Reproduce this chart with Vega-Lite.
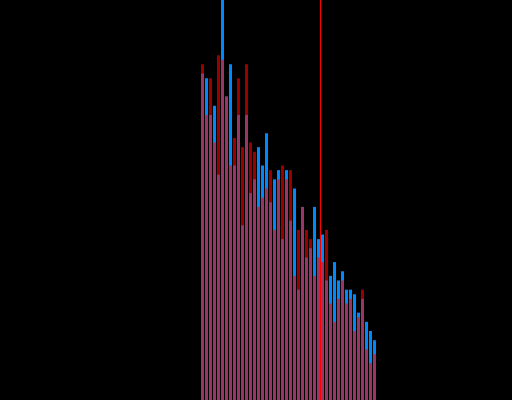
{
  "$schema": "https://vega.github.io/schema/vega-lite/v6.json",
  "width": 512,
  "height": 400,
  "autosize": "none",
  "padding": 0,
  "background": "#000000",
  "config": {"view": {"stroke": null}, "axis": {"disable": true}},
  "datasets": {
    "bins": [
      {"bin_start": 0, "bin_end": 1, "blue": 71, "red": 73},
      {"bin_start": 1, "bin_end": 2, "blue": 70, "red": 62},
      {"bin_start": 2, "bin_end": 3, "blue": 62, "red": 70},
      {"bin_start": 3, "bin_end": 4, "blue": 64, "red": 56},
      {"bin_start": 4, "bin_end": 5, "blue": 49, "red": 75},
      {"bin_start": 5, "bin_end": 6, "blue": 87, "red": 74},
      {"bin_start": 6, "bin_end": 7, "blue": 66, "red": 66},
      {"bin_start": 7, "bin_end": 8, "blue": 73, "red": 51},
      {"bin_start": 8, "bin_end": 9, "blue": 51, "red": 57},
      {"bin_start": 9, "bin_end": 10, "blue": 62, "red": 70},
      {"bin_start": 10, "bin_end": 11, "blue": 38, "red": 55},
      {"bin_start": 11, "bin_end": 12, "blue": 62, "red": 73},
      {"bin_start": 12, "bin_end": 13, "blue": 45, "red": 56},
      {"bin_start": 13, "bin_end": 14, "blue": 48, "red": 54},
      {"bin_start": 14, "bin_end": 15, "blue": 55, "red": 42},
      {"bin_start": 15, "bin_end": 16, "blue": 51, "red": 44},
      {"bin_start": 16, "bin_end": 17, "blue": 58, "red": 46},
      {"bin_start": 17, "bin_end": 18, "blue": 43, "red": 50},
      {"bin_start": 18, "bin_end": 19, "blue": 48, "red": 37},
      {"bin_start": 19, "bin_end": 20, "blue": 50, "red": 48},
      {"bin_start": 20, "bin_end": 21, "blue": 35, "red": 51},
      {"bin_start": 21, "bin_end": 22, "blue": 50, "red": 48},
      {"bin_start": 22, "bin_end": 23, "blue": 39, "red": 50},
      {"bin_start": 23, "bin_end": 24, "blue": 46, "red": 27},
      {"bin_start": 24, "bin_end": 25, "blue": 24, "red": 37},
      {"bin_start": 25, "bin_end": 26, "blue": 42, "red": 42},
      {"bin_start": 26, "bin_end": 27, "blue": 31, "red": 37},
      {"bin_start": 27, "bin_end": 28, "blue": 33, "red": 35},
      {"bin_start": 28, "bin_end": 29, "blue": 42, "red": 27},
      {"bin_start": 29, "bin_end": 30, "blue": 35, "red": 31},
      {"bin_start": 30, "bin_end": 31, "blue": 36, "red": 30},
      {"bin_start": 31, "bin_end": 32, "blue": 26, "red": 37},
      {"bin_start": 32, "bin_end": 33, "blue": 27, "red": 21},
      {"bin_start": 33, "bin_end": 34, "blue": 30, "red": 17},
      {"bin_start": 34, "bin_end": 35, "blue": 26, "red": 22},
      {"bin_start": 35, "bin_end": 36, "blue": 28, "red": 26},
      {"bin_start": 36, "bin_end": 37, "blue": 24, "red": 21},
      {"bin_start": 37, "bin_end": 38, "blue": 24, "red": 22},
      {"bin_start": 38, "bin_end": 39, "blue": 23, "red": 15},
      {"bin_start": 39, "bin_end": 40, "blue": 19, "red": 18},
      {"bin_start": 40, "bin_end": 41, "blue": 22, "red": 24},
      {"bin_start": 41, "bin_end": 42, "blue": 17, "red": 11},
      {"bin_start": 42, "bin_end": 43, "blue": 15, "red": 8},
      {"bin_start": 43, "bin_end": 44, "blue": 13, "red": 10}
    ],
    "marker": [{"value": 30.125}]
  },
  "layer": [
    {
      "data": {"name": "bins"},
      "mark": {"type": "bar", "color": "#0088ff", "binSpacing": 1, "clip": true},
      "encoding": {
        "x": {"field": "bin_start", "type": "quantitative", "bin": "binned", "scale": {"domain": [-50, 78], "nice": false, "zero": false}, "axis": null},
        "x2": {"field": "bin_end"},
        "y": {"field": "blue", "type": "quantitative", "scale": {"domain": [0, 87], "nice": false}, "axis": null}
      }
    },
    {
      "data": {"name": "bins"},
      "mark": {"type": "bar", "color": "#ff0000", "opacity": 0.6, "binSpacing": 1, "clip": true},
      "encoding": {
        "x": {"field": "bin_start", "type": "quantitative", "bin": "binned", "axis": null},
        "x2": {"field": "bin_end"},
        "y": {"field": "red", "type": "quantitative", "axis": null}
      }
    },
    {
      "data": {"name": "marker"},
      "mark": {"type": "rule", "color": "#ff0000", "strokeWidth": 1},
      "encoding": {
        "x": {"field": "value", "type": "quantitative", "axis": null}
      }
    }
  ]
}
